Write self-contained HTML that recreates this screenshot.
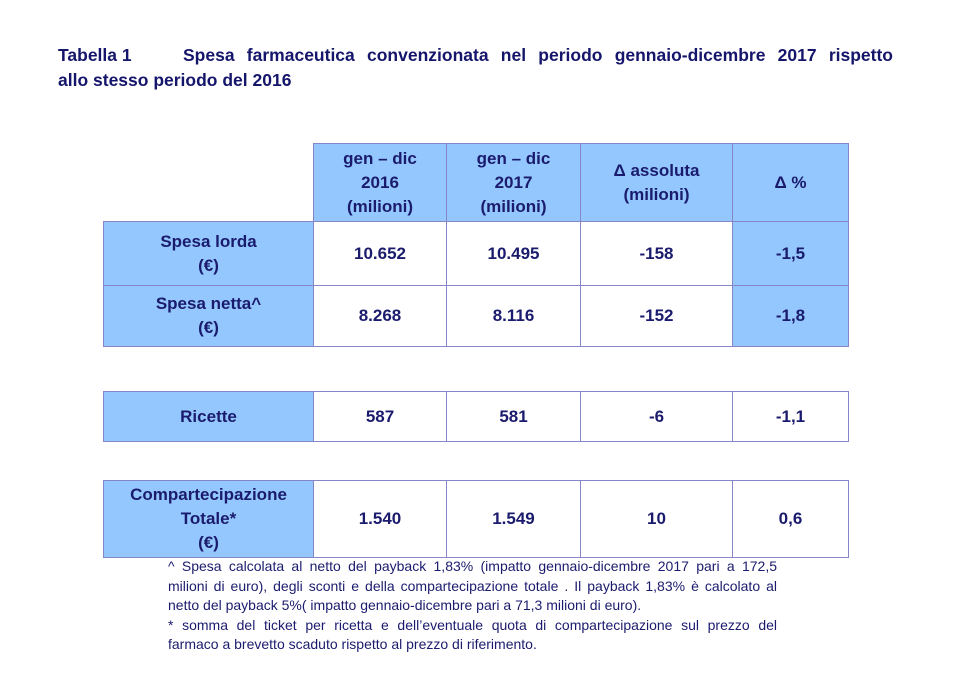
<!DOCTYPE html>
<html><head><meta charset="utf-8"><style>
body{margin:0;width:956px;height:686px;background:#fff;position:relative;font-family:"Liberation Sans",sans-serif;color:#1b1b6e;overflow:hidden}
.t{position:absolute;font-weight:bold;font-size:17.5px;line-height:24px;color:#15156b;white-space:nowrap}
.c{position:absolute;box-sizing:border-box;display:flex;align-items:center;justify-content:center;text-align:center;font-weight:bold;font-size:17px;line-height:24px;border:1px solid #8585c8;background:#fff}
.b{background:#93c7fd}
.fl{position:absolute;left:168px;width:609px;font-size:14px;line-height:19.6px;text-align:justify;text-align-last:justify;white-space:nowrap;color:#1b1b6e}
.fl.n{text-align-last:left}
</style></head><body>
<div class="t" style="top:43px;left:58px">Tabella 1</div>
<div class="t" style="top:43px;left:183px;width:710px;white-space:normal;text-align:justify;text-align-last:justify">Spesa farmaceutica convenzionata nel periodo gennaio-dicembre 2017 rispetto</div>
<div class="t" style="top:68px;left:58px">allo stesso periodo del 2016</div>

<div class="c b" style="left:313px;top:143px;width:134px;height:79px">gen – dic<br>2016<br>(milioni)</div>
<div class="c b" style="left:446px;top:143px;width:135px;height:79px">gen – dic<br>2017<br>(milioni)</div>
<div class="c b" style="left:580px;top:143px;width:153px;height:79px">Δ assoluta<br>(milioni)</div>
<div class="c b" style="left:732px;top:143px;width:117px;height:79px">Δ %</div>

<div class="c b" style="left:103px;top:221px;width:211px;height:65px">Spesa lorda<br>(€)</div>
<div class="c" style="left:313px;top:221px;width:134px;height:65px">10.652</div>
<div class="c" style="left:446px;top:221px;width:135px;height:65px">10.495</div>
<div class="c" style="left:580px;top:221px;width:153px;height:65px">-158</div>
<div class="c b" style="left:732px;top:221px;width:117px;height:65px">-1,5</div>

<div class="c b" style="left:103px;top:285px;width:211px;height:62px">Spesa netta^<br>(€)</div>
<div class="c" style="left:313px;top:285px;width:134px;height:62px">8.268</div>
<div class="c" style="left:446px;top:285px;width:135px;height:62px">8.116</div>
<div class="c" style="left:580px;top:285px;width:153px;height:62px">-152</div>
<div class="c b" style="left:732px;top:285px;width:117px;height:62px">-1,8</div>

<div class="c b" style="left:103px;top:391px;width:211px;height:51px">Ricette</div>
<div class="c" style="left:313px;top:391px;width:134px;height:51px">587</div>
<div class="c" style="left:446px;top:391px;width:135px;height:51px">581</div>
<div class="c" style="left:580px;top:391px;width:153px;height:51px">-6</div>
<div class="c" style="left:732px;top:391px;width:117px;height:51px">-1,1</div>

<div class="c b" style="left:103px;top:480px;width:211px;height:78px">Compartecipazione<br>Totale*<br>(€)</div>
<div class="c" style="left:313px;top:480px;width:134px;height:78px">1.540</div>
<div class="c" style="left:446px;top:480px;width:135px;height:78px">1.549</div>
<div class="c" style="left:580px;top:480px;width:153px;height:78px">10</div>
<div class="c" style="left:732px;top:480px;width:117px;height:78px">0,6</div>

<div class="fl" style="top:557px">^ Spesa calcolata al netto del payback 1,83% (impatto gennaio-dicembre 2017 pari a 172,5</div>
<div class="fl" style="top:577px">milioni di euro), degli sconti e della compartecipazione totale . Il payback 1,83% è calcolato al</div>
<div class="fl n" style="top:596px">netto del payback 5%( impatto gennaio-dicembre pari a 71,3 milioni di euro).</div>
<div class="fl" style="top:616px">* somma del ticket per ricetta e dell’eventuale quota di compartecipazione sul prezzo del</div>
<div class="fl n" style="top:635px">farmaco a brevetto scaduto rispetto al prezzo di riferimento.</div>
</body></html>
